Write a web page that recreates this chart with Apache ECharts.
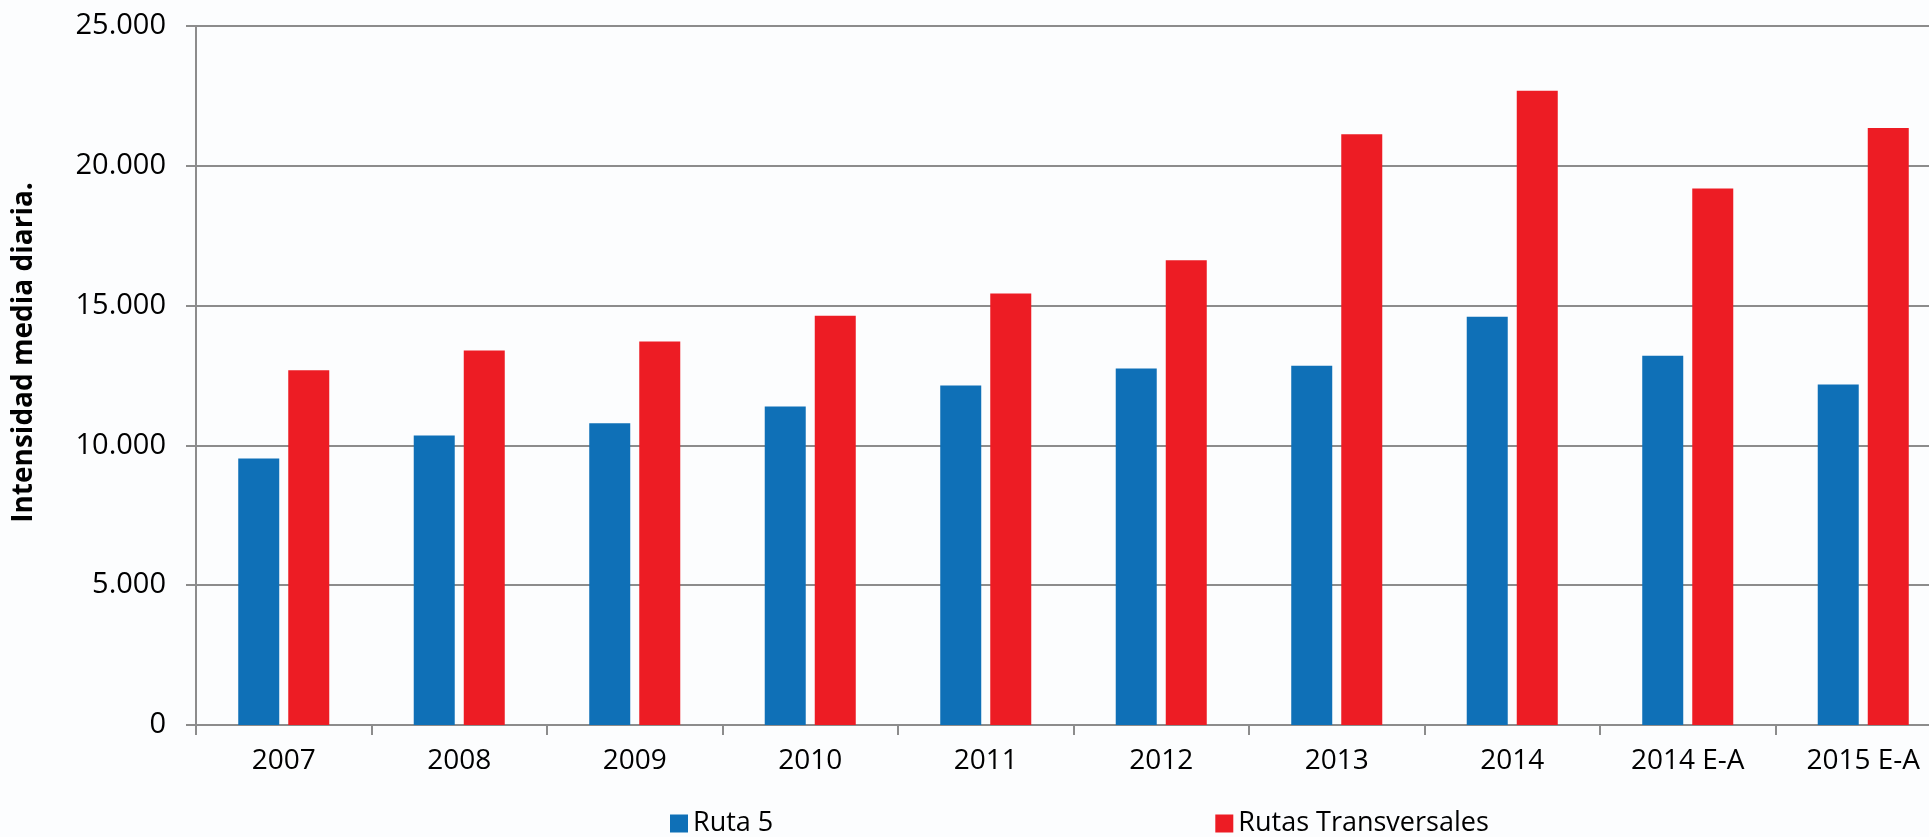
<!DOCTYPE html>
<html>
<head>
<meta charset="utf-8">
<script src="https://cdn.jsdelivr.net/npm/echarts@6/dist/echarts.min.js"></script>
<style>
html,body{margin:0;padding:0;background:#fcfdfe;}
#c{width:1929px;height:837px;}
</style>
</head>
<body>
<div id="c"></div>
<script>
const categories = ['2007','2008','2009','2010','2011','2012','2013','2014','2014 E-A','2015 E-A'];
const ruta5 = [9531, 10354, 10795, 11392, 12144, 12752, 12845, 14603, 13207, 12176];
const transversales = [12692, 13397, 13718, 14635, 15437, 16618, 21127, 22685, 19188, 21349];
const yTicks = { min: 0, max: 25000, interval: 5000 };
const seriesNames = ['Ruta 5', 'Rutas Transversales'];
const yTitle = 'Intensidad media diaria.';

const fmt = v => String(v).replace(/\B(?=(\d{3})+(?!\d))/g, '.');
const font = 'Open Sans';
const chart = echarts.init(document.getElementById('c'));
chart.setOption({
  backgroundColor: '#fcfdfe',
  animation: false,
  textStyle: { fontFamily: font },
  grid: { left: 196, top: 26, height: 699, width: 1755, containLabel: false, outerBoundsMode: 'none' },
  legend: {
    left: 665, top: 805, itemWidth: 18, itemHeight: 18, itemGap: 442,
    icon: 'rect',
    textStyle: { fontFamily: font, fontSize: 27, color: '#000' },
    data: seriesNames
  },
  xAxis: {
    type: 'category', data: categories,
    axisLine: { lineStyle: { color: '#8c8c8c', width: 2 } },
    axisTick: { show: true, length: 10, lineStyle: { color: '#8c8c8c', width: 2 } },
    axisLabel: { fontFamily: font, fontSize: 28, color: '#000', margin: 22 }
  },
  yAxis: {
    type: 'value', min: yTicks.min, max: yTicks.max, interval: yTicks.interval,
    name: yTitle, nameLocation: 'middle', nameGap: 158,
    nameTextStyle: { fontFamily: font, fontSize: 28, fontWeight: 'bold', color: '#000', padding: [0, 0, 0, 46] },
    axisLine: { show: true, lineStyle: { color: '#8c8c8c', width: 2 } },
    axisTick: { show: true, length: 10, lineStyle: { color: '#8c8c8c', width: 2 } },
    splitLine: { lineStyle: { color: '#8c8c8c', width: 2 } },
    axisLabel: { fontFamily: font, fontSize: 29, color: '#000', margin: 30, formatter: fmt }
  },
  series: [
    { name: seriesNames[0], type: 'bar', data: ruta5, barWidth: 41, barGap: '22%', itemStyle: { color: '#0f70b7' } },
    { name: seriesNames[1], type: 'bar', data: transversales, barWidth: 41, barGap: '22%', itemStyle: { color: '#ed1c24' } }
  ]
});
</script>
</body>
</html>
